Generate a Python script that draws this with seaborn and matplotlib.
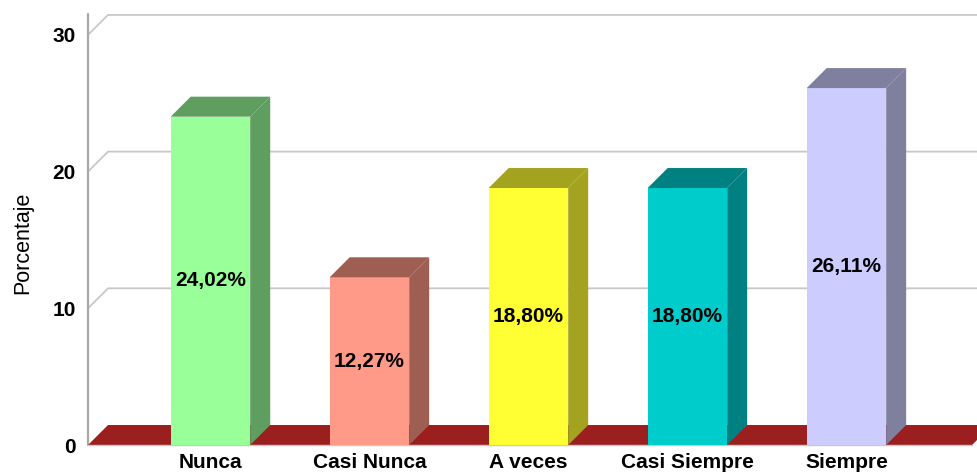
import matplotlib
matplotlib.use("Agg")
import matplotlib.pyplot as plt
from matplotlib.patches import Polygon
import seaborn as sns
import pandas as pd

# data
categories = ["Nunca", "Casi Nunca", "A veces", "Casi Siempre", "Siempre"]
values = [24.02, 12.27, 18.80, 18.80, 26.11]
labels = ["24,02%", "12,27%", "18,80%", "18,80%", "26,11%"]
y_ticks = [0, 10, 20, 30]

front_colors = ["#99FF99", "#FF9988", "#FFFF33", "#00CCCC", "#CCCCFF"]
side_colors = ["#5E9E5E", "#9E5E52", "#A3A31F", "#008080", "#7F7F9E"]
floor_color = "#9C1F1F"

sns.set_style("white")
plt.rcParams["font.family"] = ["Liberation Sans", "DejaVu Sans"]

fig = plt.figure(figsize=(9.78, 4.76), dpi=100)
ax = fig.add_axes([0.090, 0.0651, 0.9039, 0.9046])

df = pd.DataFrame({"cat": categories, "val": values})
sns.barplot(data=df, x="cat", y="val", hue="cat", palette=front_colors,
            width=0.5, saturation=1, legend=False, linewidth=0, ax=ax, zorder=3)

xl0, xl1 = -0.77, 4.79
ymax = 31.5
ax.set_xlim(xl0, xl1)
ax.set_ylim(0, ymax)

# depth of the fake 3D (about 20 px each way)
dx = 20 / 159.0
dy = 20 / 13.67

# back wall gridlines
for v in y_ticks[1:]:
    ax.plot([xl0, xl0 + dx, xl1 + dx + 1], [v, v + dy, v + dy],
            color="#C8C8C8", lw=1.3, clip_on=False, zorder=1)

# left axis line
ax.plot([xl0, xl0], [0, ymax], color="#A8A8A8", lw=1.6, clip_on=False, zorder=2)

# floor
ax.add_patch(Polygon([(xl0, 0), (xl1, 0), (xl1 + dx, dy), (xl0 + dx, dy)],
                     closed=True, facecolor=floor_color, edgecolor="none",
                     clip_on=False, zorder=2))
ax.plot([xl0, xl1], [0, 0], color="#C8C8C8", lw=1.0, clip_on=False, zorder=2)

# top and side faces of each bar
for i, p in enumerate(ax.patches[:len(categories)]):
    x0 = p.get_x()
    w = p.get_width()
    h = p.get_height()
    top = Polygon([(x0, h), (x0 + w, h), (x0 + w + dx, h + dy), (x0 + dx, h + dy)],
                  closed=True, facecolor=side_colors[i], edgecolor="none",
                  clip_on=False, zorder=3)
    side = Polygon([(x0 + w, 0), (x0 + w + dx, dy), (x0 + w + dx, h + dy), (x0 + w, h)],
                   closed=True, facecolor=side_colors[i], edgecolor="none",
                   clip_on=False, zorder=3)
    ax.add_patch(top)
    ax.add_patch(side)
    ax.text(x0 + w / 2, h / 2, labels[i], ha="center", va="center",
            fontsize=15, fontweight="bold", color="black", zorder=5)

for s in ax.spines.values():
    s.set_visible(False)

ax.set_yticks(y_ticks)
ax.set_yticklabels([str(t) for t in y_ticks], fontsize=15, fontweight="bold", color="black")
ax.set_xticks(range(len(categories)))
ax.set_xticklabels(categories, fontsize=15, fontweight="bold", color="black")
ax.tick_params(axis="both", length=0)
ax.tick_params(axis="y", pad=9)
ax.tick_params(axis="x", pad=6)
ax.set_xlabel("")
ax.set_ylabel("Porcentaje", fontsize=15.5, color="black")
ax.yaxis.set_label_coords(-0.062, 0.47)
ax.grid(False)

fig.savefig("out.png", dpi=100)
